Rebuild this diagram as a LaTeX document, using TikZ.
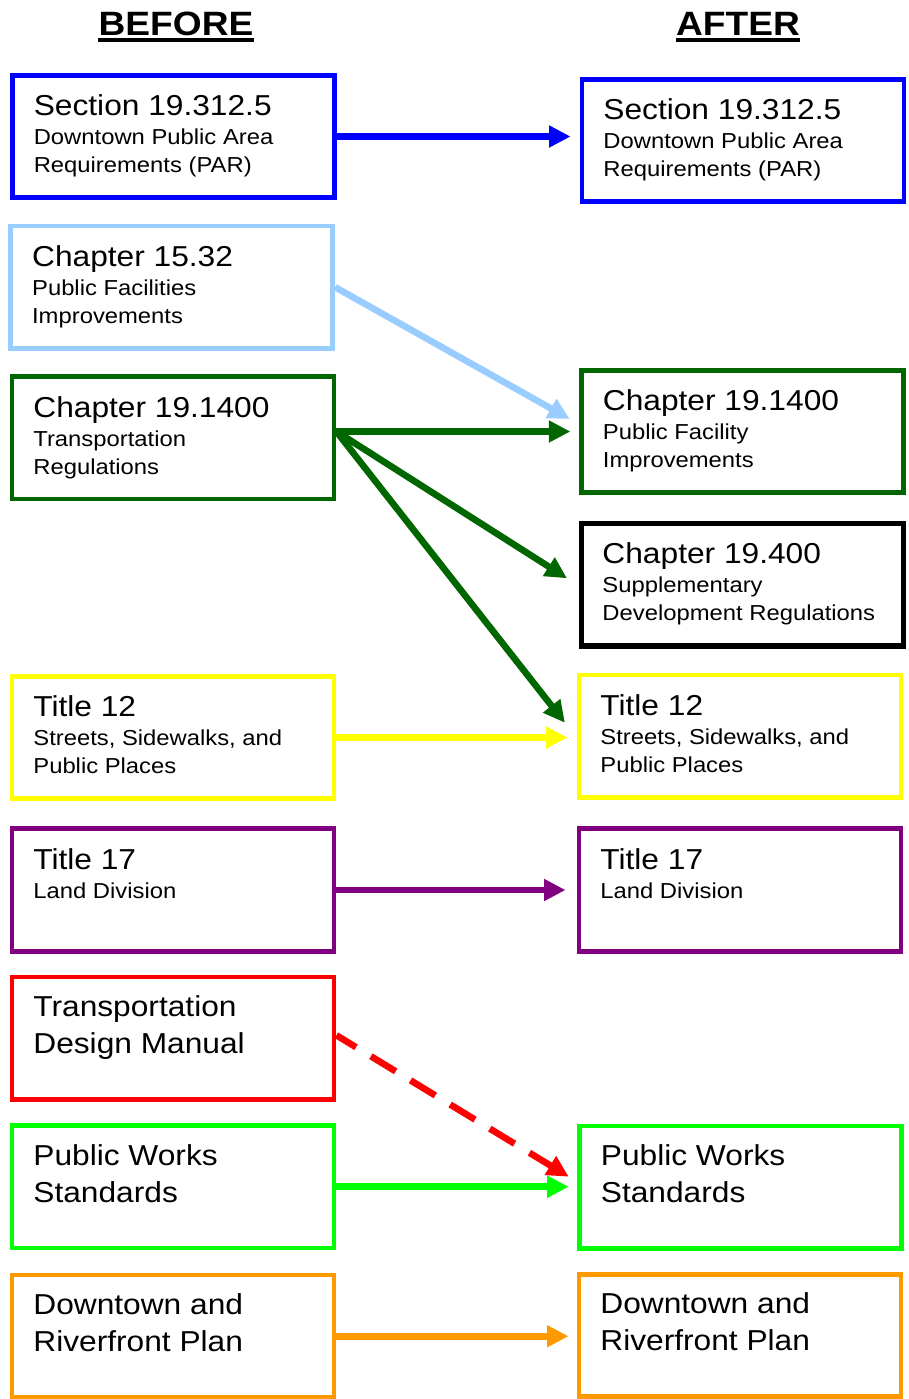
\documentclass[tikz,border=0pt]{standalone}
\usepackage{fontspec}
\setmainfont{Liberation Sans}[FakeStretch=1.1]
\usepackage{tikz}
\usetikzlibrary{arrows.meta}
\usetikzlibrary{calc}
\usetikzlibrary{positioning}

\definecolor{secblue}{RGB}{0,0,255}
\definecolor{pfblue}{RGB}{153,204,255}
\definecolor{trgreen}{RGB}{0,102,0}
\definecolor{tyellow}{RGB}{255,255,0}
\definecolor{tpurple}{RGB}{128,0,128}
\definecolor{tdmred}{RGB}{255,0,0}
\definecolor{pwgreen}{RGB}{0,255,0}
\definecolor{drorange}{RGB}{255,153,0}

\begin{document}
\begin{tikzpicture}[x=0.25mm, y=-0.25mm,
    doc/.style={draw=#1, line width=1.2mm, minimum width=80.5mm, minimum height=30.6mm, inner sep=0pt},
    head/.style={anchor=base, inner sep=0pt, font=\fontsize{24pt}{28pt}\selectfont\bfseries},
    ttl/.style={anchor=base west, inner sep=0pt, font=\fontsize{20.5pt}{24pt}\selectfont},
    sub/.style={anchor=base west, inner sep=0pt, font=\fontsize{15.4pt}{18pt}\selectfont},
    link/.style={draw=#1, line width=1.65mm, -{Triangle[length=5.4mm, width=5.2mm]}}]
            \useasboundingbox (0,0) rectangle (909,1399);
            \node[head] (before) at (176,35) {BEFORE};
            \node[head] (after) at (738,35) {AFTER};
            \foreach \hd in {before, after}
                \draw[line width=1mm] ([yshift=-1.15mm]\hd.base west) -- ([yshift=-1.15mm]\hd.base east);
            \foreach \nm/\px/\py/\col in {secB/173.4/136.5/secblue, pfB/171.75/287.2/pfblue, trB/173/437.75/trgreen,
                    t12B/173/737.5/tyellow, t17B/173/890/tpurple, tdmB/173/1038.25/tdmred, pwB/173/1186.75/pwgreen,
                    drB/173/1336.25/drorange, secA/743/140.35/secblue, chA/742.5/431.5/trgreen,
                    t12A/740/736.25/tyellow, t17A/740/890/tpurple, pwA/740.5/1187.2/pwgreen, drA/740/1335.4/drorange}
                \node[doc=\col] (\nm) at (\px,\py) {};
            \node[doc=black, line width=1.4mm] (sdrA) at (742.5,584.75) {};
            \foreach \nm/\tx/\la/\lb in {secB/{Section 19.312.5}/{Downtown Public Area}/{Requirements (PAR)},
                    secA/{Section 19.312.5}/{Downtown Public Area}/{Requirements (PAR)},
                    pfB/{Chapter 15.32}/{Public Facilities}/{Improvements},
                    trB/{Chapter 19.1400}/{Transportation}/{Regulations},
                    chA/{Chapter 19.1400}/{Public Facility}/{Improvements},
                    sdrA/{Chapter 19.400}/{Supplementary}/{Development Regulations},
                    t12B/{Title 12}/{Streets, Sidewalks, and}/{Public Places},
                    t12A/{Title 12}/{Streets, Sidewalks, and}/{Public Places}}
            {
                \node[ttl] (\nm-t) at ($(\nm.north west)+(23.5,43)$) {\tx};
                \node[sub] (\nm-a) at ($(\nm.north west)+(23.5,72)$) {\la};
                \node[sub] (\nm-b) at ($(\nm.north west)+(23.5,100)$) {\lb};
            }
            \foreach \nm in {t17B, t17A}
            {
                \node[ttl] (\nm-t) at ($(\nm.north west)+(23.5,43)$) {Title 17};
                \node[sub] (\nm-a) at ($(\nm.north west)+(23.5,72)$) {Land Division};
            }
            \foreach \nm/\la/\lb in {tdmB/Transportation/{Design Manual}, pwB/{Public Works}/Standards,
                    pwA/{Public Works}/Standards, drB/{Downtown and}/{Riverfront Plan}, drA/{Downtown and}/{Riverfront Plan}}
            {
                \node[ttl] (\nm-a) at ($(\nm.north west)+(23.5,42)$) {\la};
                \node[ttl] (\nm-b) at ($(\nm.north west)+(23.5,79)$) {\lb};
            }
            \draw[link=secblue] (secB.east) -- ($(secA.west |- secB.east)+(-9,0)$);
            \draw[link=pfblue] (pfB.east) -- ($(chA.west)+(-9.3,-12.5)$);
            \draw[link=trgreen] (chA.west -| trB.east) -- ($(chA.west)+(-8.7,0)$);
            \draw[link=trgreen] (chA.west -| trB.east) -- ($(sdrA.west)+(-11.7,-6.5)$);
            \draw[link=trgreen] (chA.west -| trB.east) -- ($(t12A.west)+(-11.7,-13.5)$);
            \draw[link=tyellow] (t12B.east) -- ($(t12A.west |- t12B.east)+(-9,0)$);
            \draw[link=tpurple] (t17B.east) -- ($(t17A.west)+(-11,0)$);
            \draw[link=tdmred, dash pattern=on 7.25mm off 4.35mm, dash phase=1.5mm] ($(tdmB.east)+(0,-3)$) -- ($(pwA.west)+(-8.3,-10.5)$);
            \draw[link=pwgreen] (pwB.east) -- ($(pwA.west |- pwB.east)+(-8.3,0)$);
            \draw[link=drorange] (drB.east) -- ($(drA.west |- drB.east)+(-8,0)$);
        \end{tikzpicture}
\end{document}
